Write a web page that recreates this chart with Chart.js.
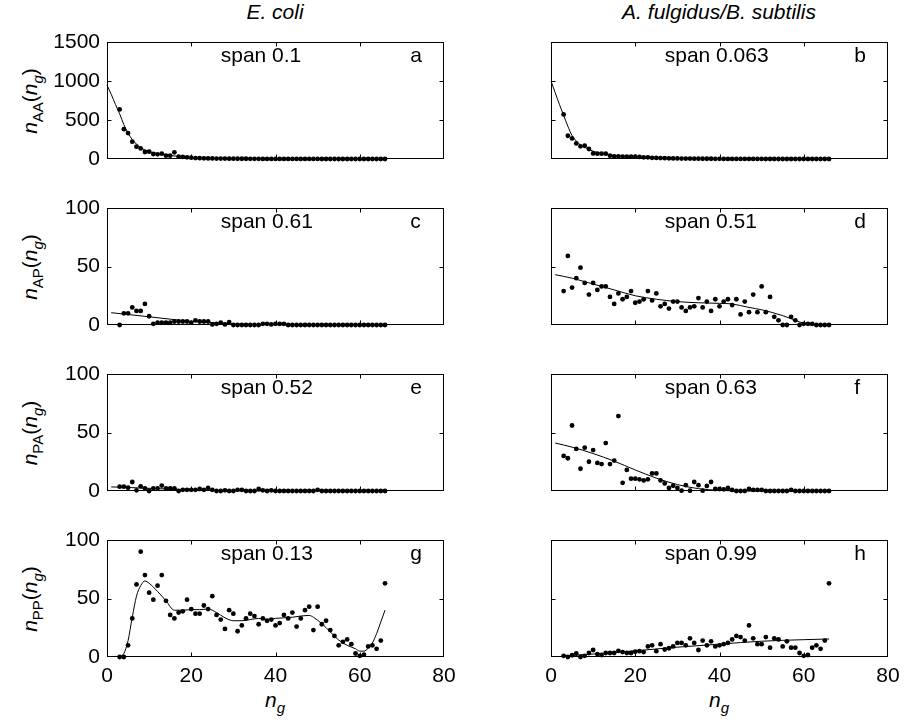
<!DOCTYPE html>
<html>
<head>
<meta charset="utf-8">
<script src="https://cdn.jsdelivr.net/npm/chart.js@4.4.1/dist/chart.umd.min.js"></script>
<style>
  body { margin: 0; background: #fff; }
  #fig { position: relative; width: 904px; height: 724px; overflow: hidden;
         font-family: "Liberation Sans", Arial, Helvetica, sans-serif; color: #000; }
  #fig canvas { position: absolute; }
  .lab { position: absolute; font-size: 21px; white-space: nowrap; line-height: 24px; }
  .title { font-style: italic; transform: translate(-50%, -50%); }
  .xlab { transform: translate(-50%, -50%); }
  .ylab { transform: translate(-50%, -50%) rotate(-90deg); }
  .lab sub { font-size: 15px; vertical-align: -6px; line-height: 0; }
</style>
</head>
<body>
<div id="fig">
  <div class="lab title" style="left:275px; top:12px">E. coli</div>
  <div class="lab title" style="left:719px; top:12px">A. fulgidus/B. subtilis</div>
  <div class="lab ylab" style="left:30px; top:101px"><i>n</i><sub>AA</sub>(<i>n</i><sub><i>g</i></sub>)</div>
  <div class="lab ylab" style="left:30px; top:267px"><i>n</i><sub>AP</sub>(<i>n</i><sub><i>g</i></sub>)</div>
  <div class="lab ylab" style="left:30px; top:433px"><i>n</i><sub>PA</sub>(<i>n</i><sub><i>g</i></sub>)</div>
  <div class="lab ylab" style="left:30px; top:599px"><i>n</i><sub>PP</sub>(<i>n</i><sub><i>g</i></sub>)</div>
  <div class="lab xlab" style="left:275px; top:700px"><i>n</i><sub><i>g</i></sub></div>
  <div class="lab xlab" style="left:719px; top:700px"><i>n</i><sub><i>g</i></sub></div>
</div>
<script>
// group size n_g (dots)
const ng = [3,4,5,6,7,8,9,10,11,12,13,14,15,16,17,18,19,20,21,22,23,24,25,26,27,28,29,30,31,32,33,34,
            35,36,37,38,39,40,41,42,43,44,45,46,47,48,49,50,51,52,53,54,55,56,57,58,59,60,61,62,63,64,65,66];

// E. coli
const nAA_ecoli = [635,383,332,222,158,136,90,94,64,60,68,43,43,85,30,26,21,17,12,10,9,8,7,6,5,5,4,4,3,3,3,2,2,2,1,1,1,1,
                   1,1,1,1,1,1,1,1,1,1,0,0,0,0,0,0,0,0,0,0,0,0,0,0,0,0];
const nAP_ecoli = [0,10,10,15,12,12,18,7.5,1,2,2,2,2,3,3,3,3,2,4,3,3,3,0.5,1,2,0.5,2.5,0,0,0,0,0,0,0,1,1,0.5,1,1,1,
                   0,0,0,0,0,0,0,0,0,0,0,0,0,0,0,0,0,0,0,0,0,0,0,0];
const nPA_ecoli = [3.7,3.7,2.8,7.7,0.6,4,2.3,0,2.3,2.3,4.6,2.3,2.3,2.3,0,1,1,1,1,1.7,1,2.6,1,0,0,0.6,0,0,1,1,0,0,0,1.7,0.6,0,0.6,
                   0,0,0,0,0,0,0,0,0,0,1,0,0,0,0,0,0,0,0,0,0,0,0,0,0,0,0];
const nPP_ecoli = [0,0,10,33,62,90,70,55,49,61,70,48,36,33,38,39,49,41,37,37,44,41,52,36,32,24,40,37,22,27,33,37,
                   35,28,33,31,32,27,29,36,33,38,26,33,40,43,23,43,28,31,23,18,10,13,15,11,3,1,2,9,10,7,14,63];

// A. fulgidus / B. subtilis
const nAA_afbs = [571,298,264,200,162,170,128,72,68,68,68,43,34,34,30,30,30,30,26,21,21,15,14,12,10,9,8,7,6,5,5,4,4,3,3,3,2,2,
                  1,1,1,1,1,1,1,1,1,1,0,0,0,0,0,0,0,0,0,0,0,0,0,0,0,0];
const nAP_afbs = [29,59,32,40,49,36,26,36,30,33,33,24,18,27,22,24,29,19,20,22,29,21,27,16,18,14,20,20,15,12,15,16,
                  23,15,20,12,22,16,20,22,17,22,9,20,11,26,11,33,11,24,7,4,0,0,7,4,0,1,1,1,0,0,0,0];
const nPA_afbs = [30,28,56,36,19,37,25,35,24,23,41,23,26,64,7,18,10.5,10.5,10,9,10,15,15,9,6.5,2.6,4.5,2.6,0.3,5,0.3,7.7,
                  5,0.3,4.3,7.7,1.7,1.7,1.4,2.6,0.9,0,0,0,1.7,0.9,0.9,0.9,0,0,0,0,0,0,0.9,0,0,0,0,0,0,0,0,0];
const nPP_afbs = [1,0,1.5,3,0,1,3.4,6,2.5,1.7,3.4,3.4,3.4,5.3,4.2,3.4,3.4,4.5,5,4.2,9,10,5,11,6.4,7.5,9,12,12,10,16,12,
                  6,14,10,13.4,9,10,11,12,15,18,17,14,27,16,11,11,17,8,16,15,9,13.4,8,8,3.4,1,1.7,8,10,7,14,63];

// smoothed fits
const fitA_x = [0,1,2,3,4,5,6,7,8,10,12,15,20,25,30,40,50,66];
const fitA_y = [946,830,700,580,440,330,250,190,145,95,70,45,18,8,4,1,0,0];
const fitB_x = [0,1,2,3,4,5,6,7,8,10,12,15,20,25,30,40,50,66];
const fitB_y = [1000,850,700,560,420,300,230,180,150,100,70,45,28,15,8,3,1,0];
const fitC_x = [1,5,10,15,20,25,30,35,40,66];
const fitC_y = [10.5,9,7,5,3,2,1,0.5,0.2,0];
const fitD_x = [1,5,10,15,20,25,30,35,40,43,47,50,55,58,60,62,66];
const fitD_y = [43,40,35,30,25,22,20,19,18.5,18,15,13,8,4,1.5,0,0];
const fitE_x = [1,5,10,15,20,25,30,40,66];
const fitE_y = [3.5,3,2.3,1.6,1,0.5,0.2,0,0];
const fitF_x = [1,5,10,15,20,25,30,35,40,45,66];
const fitF_y = [41,37.5,32,25.5,18,11,5.5,2,0.6,0,0];
const fitG_x = [3,4,5,6,7,8,9,10,12,14,16,18,20,22,24,26,28,30,32,34,36,38,40,42,44,46,48,49,51,53,55,57,59,60,61,62,63,64,65,66];
const fitG_y = [0,3,14,34,52,61,65,63,56,48,40,40,40.5,40.5,41,38,33.5,31,31,32,33,32,33,33.5,34,35,35.5,34,28.5,21.5,14.5,10,7,5,5,7.5,12,20,30,40];
const fitH_x = [3,10,20,30,40,50,60,66];
const fitH_y = [1,2.5,5.3,8.4,11,13.5,14.8,15.4];

const spans = ['0.1','0.063','0.61','0.51','0.52','0.63','0.13','0.99'];
const letters = ['a','b','c','d','e','f','g','h'];
const xTicks = [0,20,40,60,80];

// layout
const colLeft = [107, 551];
const rowTop = [42, 208, 374, 540];
const plotW = 337, plotH = 117;
const FONT = '"Liberation Sans", Arial, Helvetica, sans-serif';

const frame = {
    id: 'frame',
    afterDraw(chart) {
        const { ctx, chartArea: a, scales: { x, y } } = chart;
        const o = chart.options.plugins.frame;
        ctx.save();
        ctx.strokeStyle = '#000';
        ctx.lineWidth = 1;
        const L = Math.round(a.left) + 0.5, T = Math.round(a.top) + 0.5;
        const R = Math.round(a.right) - 0.5, B = Math.round(a.bottom) - 0.5;
        ctx.strokeRect(L, T, R - L, B - T);
        const tl = 4;
        ctx.beginPath();
        x.ticks.forEach(t => {
            if (t.value <= x.min || t.value >= x.max) return;
            const px = Math.round(x.getPixelForValue(t.value)) + 0.5;
            ctx.moveTo(px, B); ctx.lineTo(px, B - tl);
            ctx.moveTo(px, T); ctx.lineTo(px, T + tl);
        });
        y.ticks.forEach(t => {
            if (t.value <= y.min || t.value >= y.max) return;
            const py = Math.round(y.getPixelForValue(t.value)) + 0.5;
            ctx.moveTo(L, py); ctx.lineTo(L + tl, py);
            ctx.moveTo(R, py); ctx.lineTo(R - tl, py);
        });
        ctx.stroke();
        ctx.fillStyle = '#000';
        ctx.font = '21px ' + FONT;
        ctx.textAlign = 'left';
        ctx.textBaseline = 'alphabetic';
        ctx.fillText('span ' + o.span, x.getPixelForValue(27), a.top + 20);
        ctx.fillText(o.letter, x.getPixelForValue(72), a.top + 20);
        ctx.restore();
    }
};

const fig = document.getElementById('fig');

function makePanel(k, row, col, dots, fitX, fitY, yMax, yStep) {
    const bottomRow = row === 3;
    const padL = 70, padT = 16, padR = 16, padB = bottomRow ? 36 : 16;
    const w = plotW + padL + padR, h = plotH + padT + padB;
    const cv = document.createElement('canvas');
    cv.width = w; cv.height = h;
    cv.style.left = (colLeft[col] - padL) + 'px';
    cv.style.top = (rowTop[row] - padT) + 'px';
    cv.style.width = w + 'px'; cv.style.height = h + 'px';
    fig.appendChild(cv);

    new Chart(cv.getContext('2d'), {
        type: 'scatter',
        data: {
            datasets: [{
                data: fitX.map((v, i) => ({ x: v, y: fitY[i] })),
                showLine: true,
                borderColor: '#000',
                borderWidth: 1,
                pointRadius: 0,
                cubicInterpolationMode: 'monotone',
                clip: false
            }, {
                data: ng.map((v, i) => ({ x: v, y: dots[i] })),
                showLine: false,
                pointRadius: 2.4,
                pointBorderWidth: 0,
                backgroundColor: '#000',
                borderColor: '#000',
                clip: false
            }]
        },
        options: {
            responsive: false,
            animation: false,
            layout: { padding: { top: padT, right: padR, left: 0, bottom: 0 } },
            plugins: {
                legend: { display: false },
                tooltip: { enabled: false },
                frame: { span: spans[k], letter: letters[k] }
            },
            scales: {
                x: {
                    type: 'linear', min: 0, max: 80,
                    afterBuildTicks: s => { s.ticks = xTicks.map(v => ({ value: v })); },
                    ticks: { display: bottomRow, padding: 7, color: '#000', font: { size: 21, family: FONT },
                             callback: v => String(v) },
                    grid: { display: false, drawTicks: false },
                    border: { display: false },
                    afterFit: s => { s.height = padB; s.paddingLeft = 0; s.paddingRight = 0; }
                },
                y: {
                    type: 'linear', min: 0, max: yMax,
                    ticks: { stepSize: yStep, display: col === 0, padding: 7, color: '#000', font: { size: 21, family: FONT },
                             callback: v => String(v) },
                    grid: { display: false, drawTicks: false },
                    border: { display: false },
                    afterFit: s => { s.width = padL; s.paddingTop = 0; s.paddingBottom = 0; }
                }
            }
        },
        plugins: [frame]
    });
}

makePanel(0, 0, 0, nAA_ecoli, fitA_x, fitA_y, 1500, 500);
makePanel(1, 0, 1, nAA_afbs, fitB_x, fitB_y, 1500, 500);
makePanel(2, 1, 0, nAP_ecoli, fitC_x, fitC_y, 100, 50);
makePanel(3, 1, 1, nAP_afbs, fitD_x, fitD_y, 100, 50);
makePanel(4, 2, 0, nPA_ecoli, fitE_x, fitE_y, 100, 50);
makePanel(5, 2, 1, nPA_afbs, fitF_x, fitF_y, 100, 50);
makePanel(6, 3, 0, nPP_ecoli, fitG_x, fitG_y, 100, 50);
makePanel(7, 3, 1, nPP_afbs, fitH_x, fitH_y, 100, 50);
</script>
</body>
</html>
